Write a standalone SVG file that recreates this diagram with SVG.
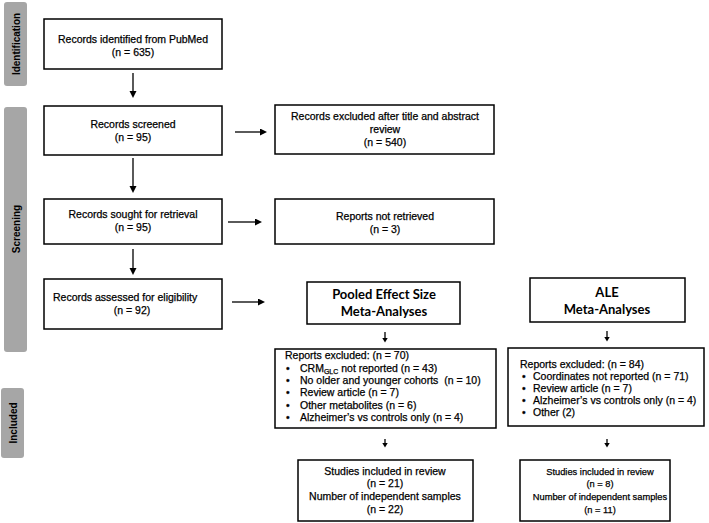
<svg xmlns="http://www.w3.org/2000/svg" width="709" height="523" viewBox="0 0 709 523">
<style>
.bx{fill:#fff;stroke:#000;stroke-width:1.5}
.bar{fill:#a6a6a6}
.t{font-family:"Liberation Sans",Arial,sans-serif;font-size:10.5px;fill:#000;stroke:#000;stroke-width:0.25}
.s{font-size:9.3px}
.c{text-anchor:middle}
.lbl{font-family:"Liberation Sans",Arial,sans-serif;font-size:10px;font-weight:bold;fill:#000;text-anchor:middle}
.h{font-family:Lato,"Open Sans",sans-serif;font-size:13px;font-weight:bold;fill:#000;text-anchor:middle}
.ln{stroke:#000;stroke-width:1.3;fill:none}
</style>
<defs>
<marker id="ah" markerUnits="userSpaceOnUse" markerWidth="9" markerHeight="9" refX="2" refY="3.5" orient="auto"><path d="M0,0 L7,3.5 L0,7 z" fill="#000"/></marker>
<marker id="sah" markerUnits="userSpaceOnUse" markerWidth="7" markerHeight="7" refX="1.5" refY="3" orient="auto"><path d="M0,0 L5,3 L0,6 z" fill="#000"/></marker>
</defs>

<g id="bar-identification"><rect class="bar" x="4" y="2" width="23" height="84" rx="3"/><text class="lbl" transform="translate(19.5,44) rotate(-90)">Identification</text></g>
<g id="bar-screening"><rect class="bar" x="4" y="107" width="23" height="245" rx="3"/><text class="lbl" transform="translate(19.5,229) rotate(-90)">Screening</text></g>
<g id="bar-included"><rect class="bar" x="1" y="388" width="23" height="70" rx="3"/><text class="lbl" transform="translate(16.5,423) rotate(-90)">Included</text></g>

<g id="connectors">
<line class="ln" x1="133" y1="73" x2="133" y2="93" marker-end="url(#ah)"/>
<line class="ln" x1="133" y1="158" x2="133" y2="188" marker-end="url(#ah)"/>
<line class="ln" x1="133" y1="249" x2="133" y2="270" marker-end="url(#ah)"/>
<line class="ln" x1="235" y1="132" x2="262" y2="132" marker-end="url(#ah)"/>
<line class="ln" x1="228" y1="222" x2="257" y2="222" marker-end="url(#ah)"/>
<line class="ln" x1="232" y1="302" x2="260" y2="302" marker-end="url(#ah)"/>
<line class="ln" x1="385" y1="332" x2="385" y2="339" marker-end="url(#sah)"/>
<line class="ln" x1="607" y1="331" x2="607" y2="338" marker-end="url(#sah)"/>
<line class="ln" x1="385" y1="439" x2="385" y2="444" marker-end="url(#sah)"/>
<line class="ln" x1="607" y1="439" x2="607" y2="444" marker-end="url(#sah)"/>
</g>

<g id="n-identified"><rect class="bx" x="44" y="19" width="178" height="50"/><text class="t c" x="133" y="43">Records identified from PubMed</text><text class="t c" x="133" y="56">(n = 635)</text></g>
<g id="n-screened"><rect class="bx" x="44" y="106" width="178" height="49"/><text class="t c" x="133" y="128">Records screened</text><text class="t c" x="133" y="141">(n = 95)</text></g>
<g id="n-sought"><rect class="bx" x="44" y="199" width="178" height="45"/><text class="t c" x="133" y="218">Records sought for retrieval</text><text class="t c" x="133" y="231">(n = 95)</text></g>
<g id="n-assessed"><rect class="bx" x="44" y="279" width="178" height="50"/><text class="t" x="53" y="301">Records assessed for eligibility</text><text class="t c" x="132" y="314">(n = 92)</text></g>

<g id="n-excluded-title"><rect class="bx" x="275" y="105" width="219" height="49"/><text class="t c" x="385" y="120">Records excluded after title and abstract</text><text class="t c" x="385" y="133">review</text><text class="t c" x="385" y="146">(n = 540)</text></g>
<g id="n-not-retrieved"><rect class="bx" x="275" y="199" width="219" height="45"/><text class="t c" x="385" y="220">Reports not retrieved</text><text class="t c" x="385" y="233">(n = 3)</text></g>

<g id="n-pooled"><rect class="bx" x="307" y="282" width="153" height="42"/><text class="h" x="384" y="299">Pooled Effect Size</text><text class="h" x="384" y="316">Meta-Analyses</text></g>
<g id="n-ale"><rect class="bx" x="530" y="278" width="155" height="44"/><text class="h" x="607" y="297">ALE</text><text class="h" x="607" y="314">Meta-Analyses</text></g>

<g id="n-pooled-excluded"><rect class="bx" x="275" y="349" width="221" height="79"/>
<text class="t" x="285" y="359">Reports excluded: (n = 70)</text>
<text class="t" x="286" y="372">•</text><text class="t" x="300" y="372">CRM<tspan font-size="7" dy="1.5">GLC</tspan><tspan dy="-1.5"> not reported (n = 43)</tspan></text>
<text class="t" x="286" y="384">•</text><text class="t" x="300" y="384" style="white-space:pre">No older and younger cohorts  (n = 10)</text>
<text class="t" x="286" y="396">•</text><text class="t" x="300" y="396">Review article (n = 7)</text>
<text class="t" x="286" y="409">•</text><text class="t" x="300" y="409">Other metabolites (n = 6)</text>
<text class="t" x="286" y="421">•</text><text class="t" x="300" y="421">Alzheimer’s vs controls only (n = 4)</text>
</g>
<g id="n-ale-excluded"><rect class="bx" x="508" y="348" width="196" height="78"/>
<text class="t" x="520" y="368">Reports excluded: (n = 84)</text>
<text class="t" x="522" y="380">•</text><text class="t" x="533" y="380">Coordinates not reported (n = 71)</text>
<text class="t" x="522" y="392">•</text><text class="t" x="533" y="392">Review article (n = 7)</text>
<text class="t" x="522" y="404">•</text><text class="t" x="533" y="404">Alzheimer’s vs controls only (n = 4)</text>
<text class="t" x="522" y="416">•</text><text class="t" x="533" y="416">Other (2)</text>
</g>

<g id="n-pooled-included"><rect class="bx" x="298" y="460" width="175" height="61"/><text class="t c" x="385" y="475">Studies included in review</text><text class="t c" x="385" y="487">(n = 21)</text><text class="t c" x="385" y="500">Number of independent samples</text><text class="t c" x="385" y="513">(n = 22)</text></g>
<g id="n-ale-included"><rect class="bx" x="520" y="460" width="150" height="61"/><text class="t s c" x="600" y="475">Studies included in review</text><text class="t s c" x="600" y="487">(n = 8)</text><text class="t s c" x="600" y="500">Number of independent samples</text><text class="t s c" x="600" y="513">(n = 11)</text></g>
</svg>
